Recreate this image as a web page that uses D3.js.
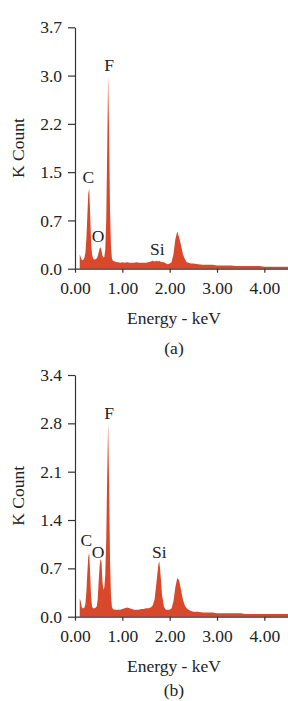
<!DOCTYPE html>
<html><head><meta charset="utf-8">
<script src="https://cdn.jsdelivr.net/npm/d3@7/dist/d3.min.js"></script>
<style>
html,body{margin:0;padding:0;background:#fff;}
svg text{font-family:"Liberation Serif","DejaVu Serif",serif;fill:#222;}
</style></head>
<body><svg id="chart" width="288" height="701"></svg>
<script>
// Energy grid (keV)
const energy = [0.10,0.12,0.14,0.16,0.18,0.20,0.22,0.24,0.26,0.28,0.30,0.32,0.34,0.36,0.38,0.40,0.42,0.44,0.46,0.48,
0.50,0.52,0.54,0.56,0.58,0.60,0.62,0.64,0.66,0.68,0.70,0.72,0.74,0.76,0.78,0.80,0.84,0.88,0.92,0.96,
1.00,1.05,1.10,1.15,1.20,1.25,1.30,1.35,1.40,1.45,1.50,1.55,1.60,1.64,1.68,1.72,1.76,1.78,1.80,1.84,
1.88,1.92,1.96,2.00,2.04,2.08,2.12,2.16,2.20,2.24,2.28,2.32,2.36,2.40,2.45,2.50,2.60,2.70,2.80,2.90,
3.00,3.10,3.20,3.30,3.40,3.50,3.60,3.70,3.80,3.90,4.00,4.10,4.20,4.30,4.40,4.50];

// Panel (a) counts (K)
const countsA = [0.22,0.18,0.14,0.13,0.14,0.17,0.25,0.45,0.80,1.15,1.23,0.85,0.40,0.22,0.16,0.14,0.14,0.15,0.16,0.19,
0.25,0.31,0.33,0.28,0.20,0.17,0.18,0.30,0.75,1.80,2.96,2.10,0.90,0.35,0.16,0.12,0.11,0.10,0.10,0.09,
0.10,0.09,0.10,0.09,0.09,0.09,0.10,0.09,0.09,0.09,0.09,0.10,0.11,0.12,0.11,0.12,0.11,0.12,0.11,0.10,
0.10,0.08,0.07,0.08,0.10,0.22,0.45,0.57,0.48,0.36,0.22,0.15,0.10,0.09,0.08,0.08,0.07,0.06,0.06,0.06,
0.05,0.05,0.05,0.05,0.04,0.04,0.04,0.04,0.04,0.04,0.03,0.03,0.03,0.03,0.03,0.03];

// Panel (b) counts (K)
const countsB = [0.26,0.22,0.14,0.12,0.12,0.13,0.18,0.35,0.62,0.85,0.91,0.62,0.28,0.15,0.12,0.12,0.12,0.13,0.15,0.25,
0.50,0.72,0.82,0.78,0.50,0.38,0.42,0.60,1.10,2.00,2.76,1.90,0.80,0.30,0.14,0.11,0.10,0.10,0.10,0.10,
0.11,0.12,0.13,0.12,0.11,0.10,0.10,0.10,0.11,0.11,0.12,0.12,0.13,0.16,0.24,0.48,0.74,0.79,0.66,0.30,
0.14,0.10,0.10,0.10,0.12,0.22,0.42,0.55,0.52,0.38,0.24,0.16,0.12,0.10,0.08,0.07,0.07,0.06,0.06,0.06,
0.05,0.05,0.05,0.05,0.05,0.05,0.04,0.04,0.04,0.04,0.04,0.04,0.04,0.04,0.04,0.04];

const xTicks = [0,1,2,3,4];
const xTickLabels = ["0.00","1.00","2.00","3.00","4.00"];
const yTicksA = [0,0.74,1.48,2.22,2.96,3.7];
const yTickLabelsA = ["0.0","0.7","1.5","2.2","3.0","3.7"];
const yTicksB = [0,0.688,1.376,2.064,2.752,3.44];
const yTickLabelsB = ["0.0","0.7","1.4","2.1","2.8","3.4"];

const peakNamesA = ["C","O","F","Si"];
const peakEnergyA = [0.28,0.49,0.72,1.74];
const peakLabelYA = [1.31,0.41,3.03,0.21];
const peakNamesB = ["C","O","F","Si"];
const peakEnergyB = [0.24,0.49,0.72,1.78];
const peakLabelYB = [1.00,0.83,2.81,0.83];

const svg = d3.select("#chart");
const FILL = "#d9482a";
const AXIS = "#333";
const FS = 17.5;

function panel(cfg){
  const x = d3.scaleLinear().domain([0,4.5]).range([75,288]);
  const y = d3.scaleLinear().domain([0,cfg.yMax]).range([cfg.y0,cfg.y1]);
  const g = svg.append("g");
  const data = energy.map((e,i)=>({e, v:cfg.counts[i]}));
  g.append("path").datum(data)
    .attr("fill",FILL)
    .attr("d", d3.area().x(d=>x(d.e)).y0(y(0)).y1(d=>y(d.v)));

  const yAx = d3.axisLeft(y).tickValues(cfg.yTicks)
    .tickFormat((d,i)=>cfg.yLabels[i]).tickSizeInner(7).tickSizeOuter(0).tickPadding(6);
  const ga = g.append("g").attr("transform",`translate(75,0)`).call(yAx);
  ga.selectAll("path,line").attr("stroke",AXIS).attr("stroke-width",1.2);
  ga.selectAll("text").attr("font-size",FS).attr("font-family",null).attr("fill","#222");

  const xAx = d3.axisBottom(x).tickValues(xTicks)
    .tickFormat((d,i)=>xTickLabels[i]).tickSizeInner(4).tickSizeOuter(0);
  const gx = g.append("g").attr("transform",`translate(0,${y(0)})`).call(xAx);
  gx.selectAll("path,line").attr("stroke",AXIS).attr("stroke-width",1.2);
  gx.selectAll("text").attr("font-size",FS).attr("font-family",null).attr("fill","#222")
    .attr("y",25).attr("dy",0);

  cfg.names.forEach((n,i)=>{
    g.append("text").attr("x",x(cfg.pe[i])).attr("y",y(cfg.py[i]))
      .attr("text-anchor","middle").attr("font-size",FS).text(n);
  });

  g.append("text").attr("transform",`translate(24,${(cfg.y0+cfg.y1)/2}) rotate(-90)`)
    .attr("text-anchor","middle").attr("font-size",FS).text("K Count");
  g.append("text").attr("x",174).attr("y",cfg.y0+55.5)
    .attr("text-anchor","middle").attr("font-size",FS).text("Energy - keV");
  g.append("text").attr("x",174).attr("y",cfg.y0+cfg.tagDy)
    .attr("text-anchor","middle").attr("font-size",FS).text(cfg.tag);
}

panel({yMax:3.7,y0:268.7,y1:27.3,counts:countsA,yTicks:yTicksA,yLabels:yTickLabelsA,
  names:peakNamesA,pe:peakEnergyA,py:peakLabelYA,tag:"(a)",tagDy:85.5});
panel({yMax:3.44,y0:616.7,y1:375,counts:countsB,yTicks:yTicksB,yLabels:yTickLabelsB,
  names:peakNamesB,pe:peakEnergyB,py:peakLabelYB,tag:"(b)",tagDy:79.5});
</script></body></html>
